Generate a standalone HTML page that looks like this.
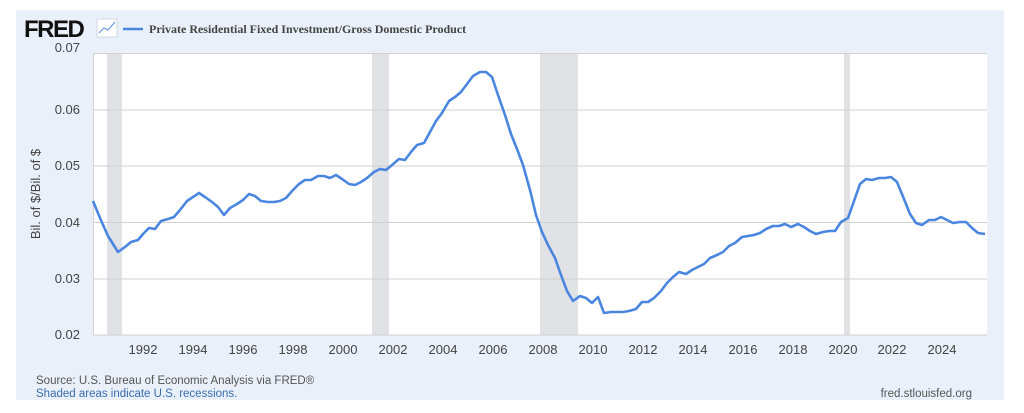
<!DOCTYPE html>
<html><head><meta charset="utf-8"><style>
body{margin:0;background:#fff;width:1024px;height:408px;overflow:hidden;font-family:"Liberation Sans",Arial,sans-serif}
</style></head><body>
<svg width="1024" height="408" xmlns="http://www.w3.org/2000/svg">
<rect x="16" y="10" width="988" height="390" fill="#eaf0f9"/>
<rect x="93" y="53" width="894" height="282" fill="#fff"/>
<g fill="#e1e2e6">
<rect x="107" y="53" width="15" height="282"/>
<rect x="372" y="53" width="17" height="282"/>
<rect x="540" y="53" width="38" height="282"/>
<rect x="844" y="53" width="6" height="282"/>
</g>
<g stroke="#d0d0d0" stroke-width="1">
<line x1="93" y1="53.5" x2="987" y2="53.5"/>
<line x1="93" y1="110" x2="987" y2="110"/>
<line x1="93" y1="166" x2="987" y2="166"/>
<line x1="93" y1="222.5" x2="987" y2="222.5"/>
<line x1="93" y1="279" x2="987" y2="279"/>
<line x1="93" y1="335" x2="987" y2="335"/>
<line x1="93.5" y1="53" x2="93.5" y2="335"/>
</g>
<g font-size="13" fill="#444" text-anchor="end">
<text x="80" y="52">0.07</text><text x="80" y="114">0.06</text><text x="80" y="170">0.05</text>
<text x="80" y="227">0.04</text><text x="80" y="283">0.03</text><text x="80" y="339">0.02</text>
</g>
<g font-size="13" fill="#444" text-anchor="middle">
<text x="143" y="354">1992</text><text x="193" y="354">1994</text><text x="243" y="354">1996</text><text x="293" y="354">1998</text>
<text x="343" y="354">2000</text><text x="393" y="354">2002</text><text x="443" y="354">2004</text><text x="493" y="354">2006</text>
<text x="543" y="354">2008</text><text x="593" y="354">2010</text><text x="643" y="354">2012</text><text x="693" y="354">2014</text>
<text x="743" y="354">2016</text><text x="793" y="354">2018</text><text x="843" y="354">2020</text><text x="892" y="354">2022</text><text x="942" y="354">2024</text>
</g>
<text transform="translate(40,194) rotate(-90)" font-size="13" fill="#444" text-anchor="middle">Bil. of $/Bil. of $</text>
<polyline fill="none" stroke="#4a86e0" stroke-width="2.6" stroke-linejoin="round" points="93,201 100,218 108,236 118,252 125,247 131,242 138,240 143,234 149,228 155,229 161,221 168,219 174,217 180,210 187,201 193,197 199,193 205,197 212,202 218,207 224,215 230,208 237,204 243,200 249,194 255,196 261,201 268,202 274,202 280,201 286,198 293,190 299,184 305,180 311,180 318,176 324,176 330,178 336,175 342,179 349,184 355,185 361,182 367,178 374,172 380,169 386,170 392,165 399,159 405,160 411,152 417,145 424,143 430,132 436,121 442,113 449,101 455,97 461,92 467,84 473,76 480,72 486,72 492,77 498,95 505,115 511,134 517,149 523,165 530,190 536,215 542,232 548,245 555,258 561,275 567,291 573,301 580,296 586,298 592,303 598,297 604,313 611,312 617,312 623,312 629,311 636,309 642,302 648,302 654,298 661,291 667,283 673,277 679,272 686,274 692,270 698,267 704,264 710,258 717,255 723,252 729,246 735,243 742,237 748,236 754,235 760,233 766,229 773,226 779,226 785,224 791,227 798,224 804,227 810,231 816,234 823,232 829,231 835,231 841,222 848,218 854,201 860,184 866,179 872,180 879,178 885,178 891,177 897,182 904,199 910,214 916,223 922,225 929,220 935,220 941,217 947,220 953,223 960,222 966,222 972,228 978,233 985,234"/>
<text x="24" y="37" font-size="24" font-weight="bold" fill="#111" letter-spacing="-1.5">FRED</text>
<rect x="97" y="19" width="20" height="18" fill="#fff" stroke="#cfd8e6"/>
<polyline points="99,33 104,28 108,30 115,22" fill="none" stroke="#6a9ee0" stroke-width="1.2"/>
<line x1="123" y1="29" x2="143" y2="29" stroke="#4a86e0" stroke-width="2.6"/>
<text x="149" y="33" font-family="Liberation Serif,serif" font-weight="bold" font-size="12" fill="#444">Private Residential Fixed Investment/Gross Domestic Product</text>
<text x="36" y="384" font-size="11.5" fill="#555">Source: U.S. Bureau of Economic Analysis via FRED®</text>
<text x="36" y="397" font-size="11.5" fill="#3a6cb0">Shaded areas indicate U.S. recessions.</text>
<text x="972" y="397" font-size="11.5" fill="#555" text-anchor="end">fred.stlouisfed.org</text>
</svg>
</body></html>
